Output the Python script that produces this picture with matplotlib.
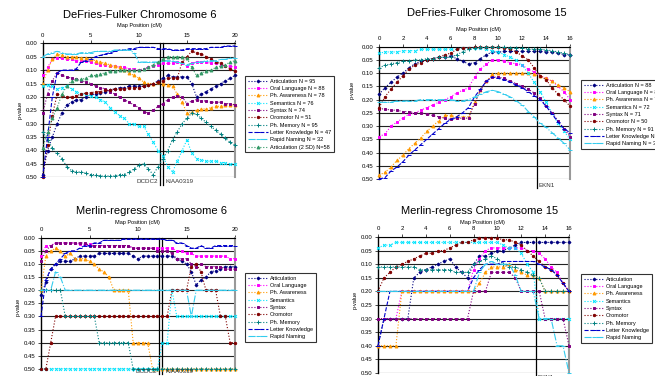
import matplotlib
matplotlib.use("Agg")
import matplotlib.pyplot as plt
import numpy as np

plt.rcParams['font.family'] = ['Liberation Sans', 'DejaVu Sans']

# ---------------- data ----------------
x_chr6 = np.arange(0, 20.01, 0.5)    # 41 positions
x_chr15 = np.arange(0, 16.01, 0.5)   # 33 positions

# DeFries-Fulker chromosome 6
df6_art = [0.49, 0.40, 0.35, 0.30, 0.26, 0.23, 0.22, 0.21, 0.21, 0.20,
           0.19, 0.19, 0.185, 0.18, 0.175, 0.17, 0.165, 0.165, 0.16, 0.16,
           0.16, 0.16, 0.155, 0.15, 0.14, 0.13, 0.12, 0.125, 0.125, 0.125,
           0.125, 0.15, 0.20, 0.19, 0.18, 0.17, 0.16, 0.15, 0.14, 0.13,
           0.12]
df6_oral = [0.12, 0.09, 0.06, 0.055, 0.055, 0.06, 0.06, 0.065, 0.065, 0.065,
            0.07, 0.075, 0.08, 0.08, 0.085, 0.085, 0.09, 0.09, 0.095, 0.095,
            0.10, 0.095, 0.09, 0.085, 0.08, 0.075, 0.075, 0.075, 0.07, 0.075,
            0.085, 0.075, 0.07, 0.07, 0.07, 0.075, 0.075, 0.08, 0.085, 0.085,
            0.09]
df6_pha = [0.15, 0.10, 0.06, 0.04, 0.045, 0.05, 0.05, 0.05, 0.055, 0.055,
           0.06, 0.065, 0.07, 0.075, 0.08, 0.085, 0.09, 0.10, 0.11, 0.12,
           0.13, 0.145, 0.15, 0.15, 0.145, 0.15, 0.155, 0.16, 0.19, 0.22,
           0.26, 0.255, 0.25, 0.245, 0.245, 0.24, 0.235, 0.235, 0.23, 0.23,
           0.23]
df6_sem = [0.16, 0.155, 0.16, 0.17, 0.165, 0.16, 0.17, 0.18, 0.19, 0.19,
           0.195, 0.20, 0.21, 0.22, 0.24, 0.255, 0.27, 0.28, 0.30, 0.30,
           0.31, 0.31, 0.34, 0.37, 0.40, 0.42, 0.46, 0.48, 0.44, 0.40,
           0.36, 0.41, 0.43, 0.435, 0.44, 0.44, 0.44, 0.445, 0.445, 0.45,
           0.45]
df6_syn = [0.26, 0.19, 0.14, 0.11, 0.12, 0.125, 0.13, 0.135, 0.14, 0.145,
           0.15, 0.16, 0.165, 0.17, 0.18, 0.19, 0.20, 0.21, 0.22, 0.23,
           0.24, 0.255, 0.26, 0.25, 0.235, 0.225, 0.21, 0.20, 0.195, 0.20,
           0.225, 0.215, 0.21, 0.215, 0.215, 0.22, 0.22, 0.22, 0.225, 0.225,
           0.23]
df6_oro = [0.50, 0.38, 0.27, 0.19, 0.195, 0.20, 0.20, 0.195, 0.19, 0.185,
           0.185, 0.18, 0.18, 0.175, 0.175, 0.17, 0.17, 0.17, 0.165, 0.165,
           0.165, 0.16, 0.155, 0.15, 0.145, 0.14, 0.13, 0.13, 0.13, 0.07,
           0.05, 0.03, 0.035, 0.04, 0.05, 0.06, 0.07, 0.075, 0.085, 0.095,
           0.105]
df6_phm = [0.33, 0.36, 0.39, 0.41, 0.43, 0.46, 0.475, 0.48, 0.48, 0.485,
           0.49, 0.49, 0.495, 0.495, 0.495, 0.495, 0.49, 0.49, 0.48, 0.47,
           0.455, 0.45, 0.47, 0.49, 0.46, 0.43, 0.40, 0.36, 0.33, 0.30,
           0.28, 0.26, 0.265, 0.28, 0.295, 0.31, 0.325, 0.34, 0.355, 0.37,
           0.38]
df6_lk = [0.50, 0.35, 0.20, 0.11, 0.10, 0.10, 0.10, 0.095, 0.07, 0.065,
          0.06, 0.05, 0.045, 0.04, 0.035, 0.03, 0.025, 0.025, 0.02, 0.02,
          0.015, 0.015, 0.015, 0.015, 0.02, 0.02, 0.02, 0.025, 0.025, 0.025,
          0.02, 0.02, 0.02, 0.02, 0.02, 0.015, 0.015, 0.015, 0.01, 0.01,
          0.01]
df6_rn = [0.05, 0.04, 0.035, 0.03, 0.035, 0.04, 0.04, 0.04, 0.035, 0.035,
          0.035, 0.03, 0.03, 0.03, 0.03, 0.025, 0.025, 0.025, 0.025, 0.035,
          0.07, 0.07, 0.07, 0.07, 0.07, 0.065, 0.065, 0.065, 0.07, 0.075,
          0.08, 0.075, 0.07, 0.07, 0.065, 0.065, 0.065, 0.06, 0.06, 0.055,
          0.055]
df6_art2 = [0.39, 0.33, 0.28, 0.24, 0.19, 0.16, 0.14, 0.135, 0.135, 0.13,
            0.12, 0.12, 0.115, 0.11, 0.105, 0.105, 0.10, 0.10, 0.10, 0.10,
            0.10, 0.095, 0.09, 0.08, 0.07, 0.06, 0.05, 0.05, 0.05, 0.05,
            0.055, 0.09, 0.12, 0.11, 0.105, 0.10, 0.09, 0.085, 0.08, 0.07,
            0.065]
df6_labels = ["Articulation N = 95", "Oral Language N = 88", "Ph. Awareness N = 78",
              "Semantics N = 76", "Syntax N = 74", "Oromotor N = 51",
              "Ph. Memory N = 95", "Letter Knowledge N = 47", "Rapid Naming N = 32",
              "Articulation (2 SD) N=58"]

# DeFries-Fulker chromosome 15
df15_art = [0.18, 0.155, 0.135, 0.115, 0.10, 0.08, 0.065, 0.055, 0.05, 0.045,
            0.04, 0.04, 0.035, 0.045, 0.055, 0.065, 0.06, 0.045, 0.03, 0.02,
            0.02, 0.018, 0.018, 0.018, 0.018, 0.018, 0.018, 0.018, 0.02, 0.02,
            0.025, 0.03, 0.03]
df15_oral = [0.34, 0.33, 0.30, 0.285, 0.27, 0.255, 0.25, 0.24, 0.23, 0.22,
             0.21, 0.20, 0.19, 0.175, 0.165, 0.155, 0.115, 0.085, 0.065, 0.05,
             0.05, 0.055, 0.06, 0.065, 0.07, 0.085, 0.095, 0.11, 0.12, 0.13,
             0.15, 0.17, 0.20]
df15_pha = [0.485, 0.475, 0.455, 0.43, 0.41, 0.385, 0.365, 0.345, 0.32, 0.30,
            0.28, 0.26, 0.26, 0.265, 0.265, 0.265, 0.21, 0.165, 0.13, 0.105,
            0.10, 0.10, 0.10, 0.10, 0.10, 0.10, 0.105, 0.11, 0.12, 0.13,
            0.145, 0.155, 0.17]
df15_sem = [0.025, 0.02, 0.02, 0.02, 0.015, 0.015, 0.015, 0.01, 0.01, 0.01,
            0.01, 0.01, 0.01, 0.01, 0.005, 0.005, 0.005, 0.005, 0.01, 0.015,
            0.02, 0.03, 0.04, 0.05, 0.07, 0.10, 0.135, 0.17, 0.21, 0.25,
            0.29, 0.32, 0.35]
df15_syn = [0.235, 0.235, 0.24, 0.24, 0.245, 0.245, 0.25, 0.25, 0.255, 0.26,
            0.265, 0.27, 0.275, 0.27, 0.27, 0.27, 0.215, 0.165, 0.13, 0.115,
            0.115, 0.12, 0.13, 0.14, 0.15, 0.16, 0.175, 0.195, 0.225, 0.25,
            0.28, 0.31, 0.34]
df15_oro = [0.23, 0.19, 0.16, 0.135, 0.11, 0.085, 0.07, 0.06, 0.05, 0.045,
            0.04, 0.03, 0.025, 0.01, 0.005, 0.004, 0.003, 0.003, 0.003, 0.003,
            0.003, 0.004, 0.01, 0.02, 0.035, 0.05, 0.08, 0.11, 0.125, 0.155,
            0.18, 0.20, 0.225]
df15_phm = [0.08, 0.07, 0.065, 0.06, 0.055, 0.055, 0.05, 0.05, 0.045, 0.045,
            0.04, 0.04, 0.04, 0.03, 0.02, 0.01, 0.005, 0.003, 0.002, 0.002,
            0.002, 0.003, 0.004, 0.005, 0.006, 0.008, 0.01, 0.01, 0.012, 0.015,
            0.02, 0.025, 0.03]
df15_lk = [0.50, 0.495, 0.47, 0.455, 0.435, 0.41, 0.39, 0.37, 0.35, 0.33,
           0.31, 0.29, 0.275, 0.265, 0.25, 0.23, 0.19, 0.16, 0.13, 0.115,
           0.12, 0.125, 0.135, 0.145, 0.155, 0.17, 0.185, 0.20, 0.225, 0.255,
           0.285, 0.31, 0.325]
df15_rn = [0.21, 0.21, 0.21, 0.205, 0.205, 0.205, 0.205, 0.20, 0.20, 0.20,
           0.20, 0.20, 0.20, 0.205, 0.205, 0.20, 0.19, 0.18, 0.17, 0.165,
           0.17, 0.18, 0.19, 0.205, 0.22, 0.245, 0.265, 0.29, 0.305, 0.325,
           0.345, 0.365, 0.39]
df15_labels = ["Articulation N = 88", "Oral Language N = 86", "Ph. Awareness N = 76",
               "Semantics N = 72", "Syntax N = 71", "Oromotor N = 50",
               "Ph. Memory N = 91", "Letter Knowledge N = 45", "Rapid Naming N = 30"]

# Merlin-regress chromosome 6
m6_art = [0.22, 0.17, 0.12, 0.10, 0.09, 0.09, 0.09, 0.08, 0.07, 0.07,
          0.07, 0.07, 0.06, 0.06, 0.06, 0.06, 0.06, 0.06, 0.06, 0.07,
          0.08, 0.07, 0.07, 0.07, 0.07, 0.07, 0.07, 0.07, 0.08, 0.09,
          0.10, 0.13, 0.18, 0.16, 0.15, 0.13, 0.125, 0.12, 0.11, 0.11,
          0.11]
m6_oral = [0.07, 0.03, 0.03, 0.02, 0.02, 0.02, 0.02, 0.02, 0.025, 0.025,
           0.025, 0.03, 0.03, 0.03, 0.03, 0.03, 0.03, 0.03, 0.03, 0.04,
           0.04, 0.04, 0.04, 0.04, 0.04, 0.04, 0.04, 0.04, 0.05, 0.05,
           0.06, 0.06, 0.07, 0.07, 0.07, 0.07, 0.07, 0.07, 0.07, 0.08,
           0.08]
m6_pha = [0.20, 0.07, 0.05, 0.04, 0.05, 0.07, 0.06, 0.08, 0.08, 0.08,
          0.09, 0.10, 0.12, 0.13, 0.15, 0.20, 0.20, 0.20, 0.20, 0.40,
          0.40, 0.40, 0.40, 0.50, 0.50, 0.50, 0.50, 0.50, 0.50, 0.50,
          0.50, 0.50, 0.50, 0.50, 0.50, 0.50, 0.50, 0.50, 0.50, 0.50,
          0.50]
m6_sem = [0.50, 0.50, 0.50, 0.50, 0.50, 0.50, 0.50, 0.50, 0.50, 0.50,
          0.50, 0.50, 0.50, 0.50, 0.50, 0.50, 0.50, 0.50, 0.50, 0.50,
          0.50, 0.50, 0.50, 0.50, 0.50, 0.40, 0.40, 0.20, 0.30, 0.30,
          0.30, 0.30, 0.30, 0.30, 0.30, 0.30, 0.30, 0.30, 0.30, 0.30,
          0.30]
m6_syn = [0.09, 0.05, 0.03, 0.02, 0.02, 0.02, 0.02, 0.02, 0.02, 0.02,
          0.03, 0.03, 0.03, 0.03, 0.03, 0.03, 0.03, 0.03, 0.03, 0.04,
          0.04, 0.04, 0.04, 0.04, 0.05, 0.05, 0.05, 0.06, 0.08, 0.08,
          0.08, 0.10, 0.11, 0.10, 0.11, 0.11, 0.11, 0.11, 0.12, 0.12,
          0.12]
m6_oro = [0.50, 0.50, 0.40, 0.30, 0.30, 0.30, 0.30, 0.30, 0.30, 0.30,
          0.30, 0.30, 0.30, 0.30, 0.30, 0.30, 0.30, 0.30, 0.30, 0.30,
          0.30, 0.30, 0.30, 0.30, 0.30, 0.30, 0.30, 0.20, 0.20, 0.20,
          0.20, 0.11, 0.10, 0.13, 0.20, 0.20, 0.20, 0.30, 0.30, 0.40,
          0.40]
m6_phm = [0.20, 0.20, 0.20, 0.20, 0.20, 0.30, 0.30, 0.30, 0.30, 0.30,
          0.30, 0.30, 0.40, 0.40, 0.40, 0.40, 0.40, 0.40, 0.40, 0.50,
          0.50, 0.50, 0.50, 0.50, 0.50, 0.50, 0.50, 0.50, 0.50, 0.50,
          0.50, 0.50, 0.50, 0.50, 0.50, 0.50, 0.50, 0.50, 0.50, 0.50,
          0.50]
m6_lk = [0.30, 0.16, 0.12, 0.10, 0.08, 0.06, 0.05, 0.05, 0.04, 0.03,
         0.03, 0.02, 0.02, 0.01, 0.01, 0.01, 0.01, 0.005, 0.005, 0.005,
         0.005, 0.005, 0.005, 0.005, 0.005, 0.005, 0.01, 0.01, 0.02, 0.02,
         0.03, 0.04, 0.04, 0.03, 0.04, 0.04, 0.03, 0.03, 0.03, 0.03,
         0.03]
m6_rn = [0.20, 0.20, 0.20, 0.13, 0.15, 0.20, 0.20, 0.20, 0.20, 0.20,
         0.20, 0.20, 0.20, 0.20, 0.20, 0.20, 0.20, 0.20, 0.20, 0.20,
         0.20, 0.20, 0.20, 0.20, 0.20, 0.20, 0.20, 0.20, 0.20, 0.20,
         0.20, 0.30, 0.20, 0.20, 0.20, 0.20, 0.20, 0.20, 0.20, 0.20,
         0.20]

# Merlin-regress chromosome 15
m15_art = [0.40, 0.30, 0.30, 0.30, 0.30, 0.30, 0.15, 0.13, 0.12, 0.11,
           0.10, 0.09, 0.08, 0.11, 0.13, 0.15, 0.10, 0.07, 0.07, 0.06,
           0.05, 0.05, 0.04, 0.03, 0.02, 0.02, 0.02, 0.02, 0.02, 0.02,
           0.02, 0.02, 0.02]
m15_oral = [0.30, 0.30, 0.30, 0.30, 0.20, 0.20, 0.20, 0.20, 0.20, 0.20,
            0.20, 0.20, 0.20, 0.20, 0.20, 0.20, 0.12, 0.08, 0.05, 0.04,
            0.04, 0.04, 0.04, 0.04, 0.04, 0.05, 0.05, 0.06, 0.08, 0.11,
            0.13, 0.17, 0.20]
m15_pha = [0.40, 0.40, 0.40, 0.40, 0.20, 0.20, 0.20, 0.20, 0.20, 0.20,
           0.20, 0.20, 0.20, 0.20, 0.20, 0.20, 0.20, 0.17, 0.13, 0.11,
           0.11, 0.11, 0.10, 0.12, 0.13, 0.14, 0.14, 0.15, 0.20, 0.20,
           0.20, 0.20, 0.20]
m15_sem = [0.04, 0.03, 0.03, 0.02, 0.02, 0.02, 0.02, 0.02, 0.02, 0.02,
           0.02, 0.02, 0.02, 0.02, 0.02, 0.02, 0.02, 0.02, 0.02, 0.02,
           0.02, 0.03, 0.04, 0.04, 0.06, 0.10, 0.13, 0.30, 0.30, 0.30,
           0.30, 0.30, 0.30]
m15_syn = [0.30, 0.30, 0.30, 0.30, 0.30, 0.30, 0.30, 0.30, 0.30, 0.30,
           0.30, 0.30, 0.30, 0.30, 0.30, 0.30, 0.20, 0.20, 0.20, 0.13,
           0.13, 0.13, 0.13, 0.15, 0.20, 0.20, 0.20, 0.20, 0.30, 0.30,
           0.30, 0.30, 0.40]
m15_oro = [0.20, 0.15, 0.13, 0.11, 0.10, 0.09, 0.08, 0.07, 0.06, 0.06,
           0.05, 0.05, 0.04, 0.03, 0.02, 0.02, 0.01, 0.005, 0.005, 0.005,
           0.005, 0.01, 0.01, 0.02, 0.03, 0.05, 0.07, 0.09, 0.11, 0.12,
           0.14, 0.17, 0.20]
m15_phm = [0.11, 0.11, 0.11, 0.11, 0.11, 0.11, 0.11, 0.12, 0.12, 0.12,
           0.12, 0.12, 0.12, 0.13, 0.13, 0.13, 0.10, 0.09, 0.08, 0.07,
           0.08, 0.10, 0.11, 0.11, 0.12, 0.13, 0.14, 0.15, 0.20, 0.20,
           0.20, 0.20, 0.20]
m15_lk = [0.40, 0.30, 0.20, 0.20, 0.20, 0.20, 0.20, 0.20, 0.20, 0.20,
          0.20, 0.20, 0.20, 0.20, 0.20, 0.20, 0.15, 0.12, 0.10, 0.10,
          0.10, 0.09, 0.09, 0.09, 0.09, 0.09, 0.09, 0.10, 0.11, 0.12,
          0.14, 0.17, 0.20]
m15_rn = [0.20, 0.20, 0.20, 0.20, 0.20, 0.20, 0.20, 0.20, 0.20, 0.20,
          0.20, 0.20, 0.20, 0.20, 0.20, 0.20, 0.20, 0.13, 0.10, 0.09,
          0.10, 0.10, 0.10, 0.14, 0.20, 0.20, 0.20, 0.30, 0.30, 0.30,
          0.40, 0.40, 0.50]

merlin_labels = ["Articulation", "Oral Language", "Ph. Awareness", "Semantics",
                 "Syntax", "Oromotor", "Ph. Memory", "Letter Knowledge", "Rapid Naming"]

# --------------- styles ---------------
# colour, marker, linestyle, markersize
STYLE = [
    ('#000080', 'D', ':', 1.5),    # articulation
    ('#FF00FF', 's', ':', 1.9),    # oral language
    ('#FF9900', '^', ':', 2.1),    # ph. awareness
    ('#00E5FF', 'x', ':', 2.1),    # semantics
    ('#800080', 's', ':', 1.9),    # syntax
    ('#800000', 'o', ':', 1.7),    # oromotor
    ('#008080', '+', ':', 2.6),    # ph. memory
    ('#0000CC', '_', '--', 2.6),   # letter knowledge
    ('#33CCEE', '_', '-.', 2.6),   # rapid naming
    ('#339966', '^', ':', 2.1),    # articulation 2sd
]

fig = plt.figure(figsize=(6.55, 3.76), dpi=100)
W, H = 655.0, 376.0


def fx(px):
    return px / W


def fy(py):
    return 1 - py / H


def panel(box, x, series, labels, xmax, xstep, title, title_xy, xl_xy, yl_xy, leg_xy):
    l, t, r, b = box
    ax = fig.add_axes([fx(l), fy(b), fx(r) - fx(l), fy(t) - fy(b)])
    for i, (ys, lab) in enumerate(zip(series, labels)):
        c, m, ls, ms = STYLE[i]
        ax.plot(x, ys, color=c, marker=m, ls=ls, lw=0.8, ms=ms, mew=0.7,
                label=lab, clip_on=False, zorder=3)
    ax.set_xlim(0, xmax)
    ax.set_ylim(0.5, 0)
    ax.set_yticks(np.arange(0, 0.501, 0.05))
    ax.set_yticklabels(["%.2f" % v for v in np.arange(0, 0.501, 0.05)])
    ax.set_xticks(np.arange(0, xmax + 0.01, xstep))
    ax.xaxis.tick_top()
    ax.tick_params(labelsize=4.3, length=2, width=0.5, pad=2)
    ax.yaxis.grid(True, color='#222222', lw=0.8)
    ax.set_axisbelow(True)
    ax.spines['bottom'].set_visible(False)
    ax.spines['left'].set_linewidth(1.0)
    ax.spines['top'].set_linewidth(0.8)
    ax.spines['right'].set_color('#999999')
    ax.spines['right'].set_linewidth(1.5)
    fig.text(fx(title_xy[0]), fy(title_xy[1]), title, fontsize=8,
             ha='center', va='center')
    fig.text(fx(xl_xy[0]), fy(xl_xy[1]), "Map Position (cM)", fontsize=4,
             ha='center', va='center')
    fig.text(fx(yl_xy[0]), fy(yl_xy[1]), "p-value", fontsize=4,
             ha='center', va='center', rotation=90)
    leg = ax.legend(loc='upper left', bbox_to_anchor=(fx(leg_xy[0]), fy(leg_xy[1])),
                    bbox_transform=fig.transFigure, fontsize=4, frameon=True,
                    fancybox=False, edgecolor='black', handlelength=3.6,
                    labelspacing=0.42, borderpad=0.5, handletextpad=0.4)
    leg.get_frame().set_linewidth(0.8)
    return ax


def gene_lines(ax, positions, bottom):
    for g in positions:
        ax.plot([g, g], [0, bottom], color='black', lw=0.9, clip_on=False, zorder=2)


# top left
ax1 = panel((42.7, 43.3, 235, 177.3), x_chr6,
            [df6_art, df6_oral, df6_pha, df6_sem, df6_syn, df6_oro, df6_phm,
             df6_lk, df6_rn, df6_art2],
            df6_labels, 20, 5, "DeFries-Fulker Chromosome 6",
            (140, 15), (139.5, 25), (20, 110), (242, 73))
gene_lines(ax1, [12.2, 12.5], 0.53)
ax1.text(12.0, 0.515, "DCDC2", fontsize=4.5, ha='right', va='center', color='#333333')
ax1.text(12.8, 0.515, "KIAA0319", fontsize=4.5, ha='left', va='center', color='#333333')

# top right
ax2 = panel((379, 46.7, 570, 179), x_chr15,
            [df15_art, df15_oral, df15_pha, df15_sem, df15_syn, df15_oro, df15_phm,
             df15_lk, df15_rn],
            df15_labels, 16, 2, "DeFries-Fulker Chromosome 15",
            (487, 13), (478, 29), (352, 90), (578, 77))
gene_lines(ax2, [13.2], 0.535)
ax2.text(13.4, 0.525, "EKN1", fontsize=4.5, ha='left', va='center', color='#333333')

# bottom left
ax3 = panel((41, 237.7, 235, 369), x_chr6,
            [m6_art, m6_oral, m6_pha, m6_sem, m6_syn, m6_oro, m6_phm, m6_lk, m6_rn],
            merlin_labels, 20, 5, "Merlin-regress Chromosome 6",
            (151, 211), (137, 222), (18, 307), (242, 270))
gene_lines(ax3, [12.2, 12.5], 0.52)
ax3.text(12.0, 0.51, "DCDC2", fontsize=4.5, ha='right', va='center', color='#333333')
ax3.text(12.8, 0.51, "KIAA0319", fontsize=4.5, ha='left', va='center', color='#333333')

# bottom right
ax4 = panel((378, 237, 569, 373), x_chr15,
            [m15_art, m15_oral, m15_pha, m15_sem, m15_syn, m15_oro, m15_phm, m15_lk, m15_rn],
            merlin_labels, 16, 2, "Merlin-regress Chromosome 15",
            (480, 211), (482, 222), (355, 300), (578, 271))
gene_lines(ax4, [13.2], 0.52)
ax4.text(13.4, 0.515, "EKN1", fontsize=4.5, ha='left', va='center', color='#333333')

fig.savefig("out.png", dpi=100, facecolor='white')
